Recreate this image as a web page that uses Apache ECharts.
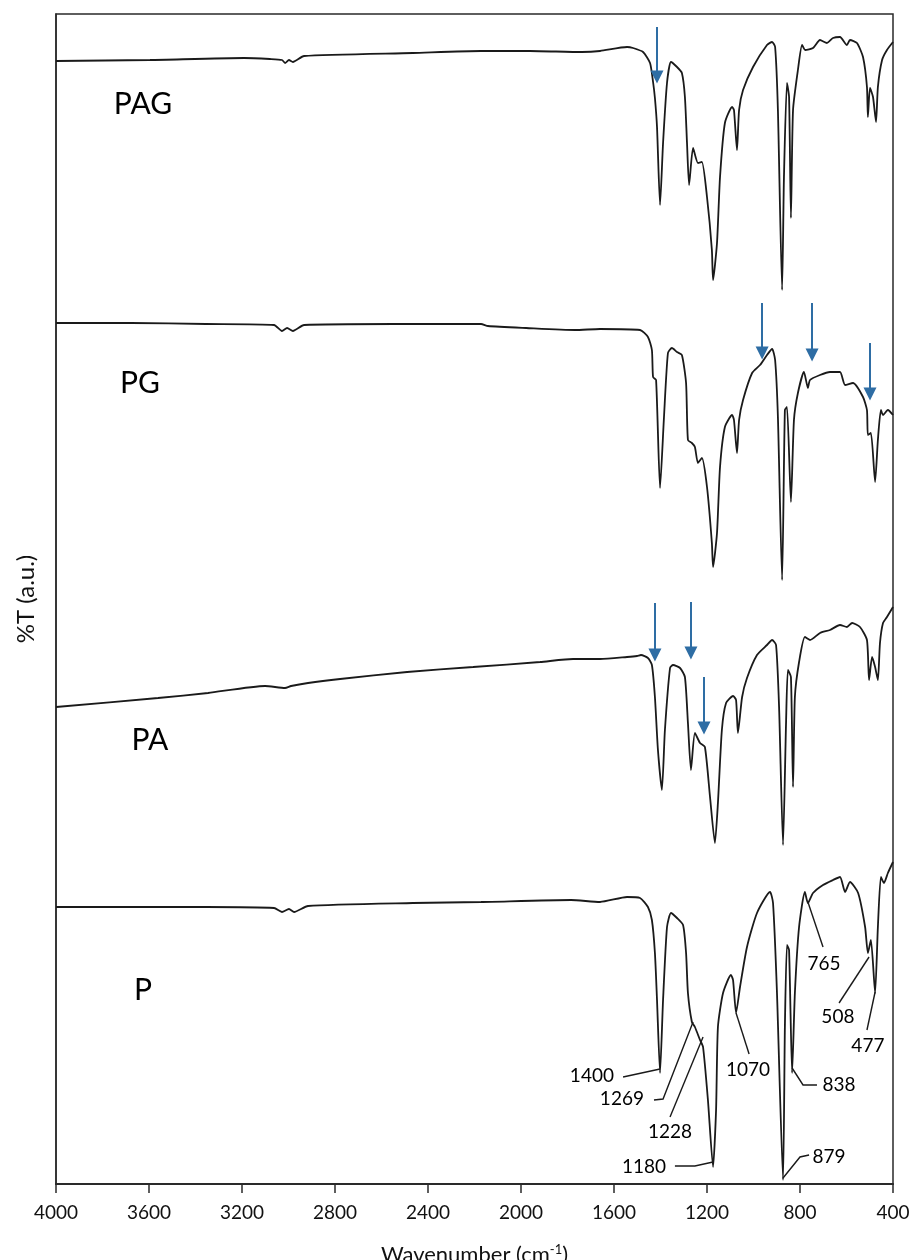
<!DOCTYPE html>
<html>
<head>
<meta charset="utf-8">
<script src="https://cdn.jsdelivr.net/npm/echarts@6/dist/echarts.min.js"></script>
<style>
  html, body { margin: 0; padding: 0; background: #fff; }
  #chart { width: 916px; height: 1260px; }
</style>
</head>
<body>
<div id="chart"></div>
<script>
// wavenumber (cm-1), %T in arbitrary units (traces stacked)
const pag = [
    [4000, 112.3], [3596, 112.4], [3191, 112.6], [3080, 112.5], [3028, 112.4], [3015, 112.1],
    [2998, 112.4], [2981, 112.2], [2933, 112.8], [2465, 113.1], [2172, 113.3], [1961, 113.3],
    [1738, 113.2], [1660, 113.3], [1544, 113.7], [1518, 113.6], [1475, 113.2], [1445, 112.1],
    [1432, 110.2], [1424, 108.6], [1415, 105.7], [1402, 97.9], [1389, 104.1], [1372, 110.1],
    [1355, 112.2], [1329, 111.7], [1308, 111.1], [1295, 108.7], [1286, 104.1], [1277, 99.9],
    [1260, 103.6], [1239, 102.1], [1222, 102.2], [1200, 98.7], [1179, 93.4], [1174, 90.4],
    [1157, 94.1], [1144, 100.7], [1123, 106.1], [1092, 107.7], [1084, 107.4], [1071, 103.4],
    [1062, 107.4], [1045, 109.4], [1002, 111.7], [942, 113.9], [920, 114.2], [907, 113.7],
    [895, 107.4], [877, 89.4], [869, 100.7], [856, 110.1], [847, 108.7], [839, 96.6],
    [830, 107.4], [809, 111.4], [791, 113.9], [778, 113.4], [744, 113.6], [714, 114.4],
    [684, 114.1], [658, 114.6], [628, 114.7], [598, 113.9], [585, 114.4], [555, 114.1],
    [529, 112.7], [512, 109.7], [508, 106.7], [499, 109.6], [486, 108.7], [473, 106.2],
    [465, 109.7], [447, 112.4], [426, 113.4], [400, 114.2]
];
const pg = [
    [4000, 86.1], [3677, 86.1], [3355, 86.0], [3062, 85.9], [3028, 85.3], [3006, 85.6],
    [2981, 85.3], [2933, 85.9], [2546, 86.0], [2172, 86.0], [2142, 85.8], [1978, 85.6],
    [1768, 85.4], [1660, 85.5], [1488, 85.4], [1454, 84.7], [1437, 83.4], [1432, 80.7],
    [1419, 80.4], [1402, 69.6], [1385, 76.7], [1368, 83.1], [1351, 83.6], [1329, 83.2],
    [1308, 82.9], [1290, 80.1], [1282, 74.4], [1265, 74.1], [1252, 73.7], [1239, 72.1],
    [1222, 72.6], [1200, 69.7], [1179, 64.1], [1174, 61.7], [1157, 65.1], [1144, 71.7],
    [1123, 75.7], [1092, 76.9], [1084, 76.4], [1071, 73.1], [1062, 76.4], [1045, 78.4],
    [1006, 81.1], [972, 81.9], [942, 82.9], [920, 83.5], [907, 82.4], [895, 76.7],
    [877, 60.4], [865, 77.4], [856, 77.7], [839, 68.2], [826, 76.4], [809, 79.1],
    [783, 81.2], [766, 79.6], [757, 80.4], [714, 80.9], [671, 81.2], [628, 81.2],
    [606, 79.9], [572, 80.1], [529, 78.7], [512, 77.4], [508, 74.9], [495, 75.1],
    [477, 70.2], [465, 74.4], [452, 77.4], [443, 76.9], [422, 77.4], [400, 76.9]
];
const pa = [
    [4000, 47.7], [3561, 48.6], [3346, 49.1], [3101, 49.8], [3015, 49.6], [2989, 49.8],
    [2916, 50.1], [2778, 50.5], [2490, 51.2], [2206, 51.7], [1918, 52.2], [1776, 52.5],
    [1660, 52.5], [1544, 52.7], [1501, 52.8], [1484, 52.9], [1454, 52.6], [1437, 51.9],
    [1424, 48.7], [1411, 43.4], [1394, 39.4], [1381, 45.4], [1359, 51.6], [1346, 51.9],
    [1316, 51.6], [1295, 50.7], [1282, 46.1], [1269, 41.4], [1252, 45.1], [1230, 44.1],
    [1209, 43.7], [1187, 38.7], [1166, 34.1], [1153, 38.1], [1136, 45.4], [1118, 48.1],
    [1088, 48.8], [1075, 48.4], [1067, 45.1], [1049, 48.7], [1028, 50.6], [985, 52.9],
    [942, 53.9], [920, 54.4], [903, 53.9], [890, 47.7], [873, 33.9], [860, 46.1],
    [852, 51.4], [839, 50.7], [830, 39.7], [822, 48.7], [804, 52.2], [779, 54.7],
    [757, 54.4], [714, 55.1], [671, 55.4], [628, 55.9], [598, 55.7], [576, 56.1],
    [542, 55.7], [512, 54.4], [503, 50.4], [490, 52.7], [477, 51.7], [465, 50.4],
    [456, 54.1], [443, 56.1], [426, 56.7], [400, 57.7]
];
const p = [
    [4000, 27.7], [3355, 27.7], [3062, 27.6], [3028, 27.2], [2998, 27.5], [2976, 27.2],
    [2916, 27.8], [2465, 28.1], [2172, 28.2], [1785, 28.4], [1660, 28.2], [1544, 28.7],
    [1488, 28.6], [1454, 27.7], [1437, 26.4], [1424, 23.1], [1415, 18.4], [1402, 11.1],
    [1389, 18.4], [1372, 25.7], [1355, 27.1], [1329, 26.6], [1303, 25.9], [1290, 23.1],
    [1282, 19.1], [1265, 16.2], [1252, 15.7], [1230, 14.4], [1217, 13.7], [1196, 8.4],
    [1174, 1.7], [1161, 7.4], [1153, 15.7], [1131, 19.1], [1097, 20.9], [1088, 20.4],
    [1075, 17.1], [1058, 19.7], [1028, 23.7], [985, 27.1], [929, 29.2], [916, 28.1],
    [899, 19.1], [873, 0.4], [865, 15.7], [856, 23.9], [847, 23.4], [834, 11.1],
    [822, 19.1], [804, 25.7], [779, 29.2], [766, 28.1], [744, 29.1], [701, 29.9],
    [658, 30.4], [628, 30.7], [606, 29.2], [585, 30.2], [550, 29.1], [520, 25.7],
    [508, 23.1], [495, 24.4], [477, 19.1], [465, 25.7], [452, 30.7], [439, 30.1],
    [422, 31.1], [400, 32.2]
];

const sampleNames = ['PAG', 'PG', 'PA', 'P'];
// where each sample name sits: [wavenumber, %T]
const namePos = [[3626, 108.0], [3639, 80.1], [3596, 44.4], [3626, 19.4]];

// peak labels on P: [text, label wn, label %T, leader line points]
const peakLabels = [
    ['1400', 1695, 10.8, [[1561, 10.7], [1402, 11.5]]],
    ['1269', 1566, 8.5, [[1428, 8.4], [1389, 8.5], [1260, 16.2]]],
    ['1228', 1359, 5.2, [[1359, 6.7], [1217, 14.7]]],
    ['1180', 1471, 1.7, [[1338, 1.8], [1252, 1.8], [1174, 2.2]]],
    ['1070', 1024, 11.4, [[1019, 13.0], [1075, 17.1]]],
    ['838', 632, 9.9, [[727, 9.9], [787, 9.9], [834, 11.6]]],
    ['879', 675, 2.7, [[761, 2.9], [800, 2.7], [873, 0.6]]],
    ['765', 697, 22.0, [[701, 23.7], [766, 28.2]]],
    ['508', 637, 16.7, [[632, 18.1], [503, 22.7]]],
    ['477', 508, 13.8, [[512, 15.4], [477, 19.2]]]
];

// blue arrows: [wn, tail %T, head %T]
const arrows = [
    [1415, 115.7, 110.7],
    [963, 88.1, 83.1],
    [748, 88.1, 82.9],
    [499, 84.1, 79.0],
    [1424, 58.1, 52.9],
    [1269, 58.2, 53.1],
    [1213, 50.7, 45.6]
];

const chart = echarts.init(document.getElementById('chart'));
const font = 'Lato, "Open Sans", sans-serif';
const lineColor = '#1a1a1a';
const arrowColor = '#2e6da4';

const traces = [pag, pg, pa, p];
const series = traces.map((d, i) => ({
    name: sampleNames[i],
    type: 'line',
    data: d,
    showSymbol: false,
    symbol: 'none',
    smooth: 0.2,
    lineStyle: { color: lineColor, width: 1.8 },
    z: 3
}));

// sample names
series.push({
    type: 'scatter',
    symbolSize: 0,
    itemStyle: { opacity: 1 },
    data: namePos.map((pos, i) => [pos[0], pos[1], sampleNames[i]]),
    label: {
        show: true, position: 'inside', formatter: prm => prm.data[2],
        fontFamily: font, fontSize: 30, color: '#000'
    },
    silent: true
});

// leader lines for peak labels
series.push({
    type: 'lines',
    coordinateSystem: 'cartesian2d',
    polyline: true,
    data: peakLabels.map(a => ({ coords: a[3] })),
    lineStyle: { color: lineColor, width: 1.4, opacity: 1 },
    silent: true
});

series.push({
    type: 'scatter',
    symbolSize: 0,
    itemStyle: { opacity: 1 },
    data: peakLabels.map(a => [a[1], a[2], a[0]]),
    label: {
        show: true, position: 'inside', formatter: prm => prm.data[2],
        fontFamily: font, fontSize: 19, color: '#000'
    },
    silent: true
});

// arrows
series.push({
    type: 'lines',
    coordinateSystem: 'cartesian2d',
    data: arrows.map(a => ({ coords: [[a[0], a[1]], [a[0], a[2]]] })),
    symbol: ['none', 'triangle'],
    symbolSize: [15, 13],
    lineStyle: { color: arrowColor, width: 2, opacity: 1 },
    itemStyle: { color: arrowColor },
    z: 5,
    silent: true
});

chart.setOption({
    animation: false,
    backgroundColor: '#fff',
    grid: {
        left: 56, right: 23, top: 14, bottom: 76,
        containLabel: false,
        outerBoundsMode: 'none',
        show: true, borderColor: '#2a2a2a', borderWidth: 1.5
    },
    xAxis: {
        type: 'value',
        inverse: true,
        min: 400, max: 4000, interval: 400,
        axisLine: { show: true, lineStyle: { color: '#2a2a2a', width: 2 } },
        axisTick: { show: true, inside: false, length: 9, lineStyle: { color: '#2a2a2a', width: 1.5 } },
        axisLabel: { fontFamily: font, fontSize: 19, color: '#111', margin: 19, formatter: v => String(v) },
        splitLine: { show: false },
        name: 'Wavenumber (cm{sup|-1})',
        nameLocation: 'middle',
        nameGap: 59,
        nameTextStyle: {
            fontFamily: font, fontSize: 22, color: '#111',
            rich: { sup: { fontFamily: font, fontSize: 13, color: '#111', verticalAlign: 'top', padding: [0, 0, 10, 0] } }
        }
    },
    yAxis: {
        type: 'value',
        min: 0, max: 117,
        axisLine: { show: true, lineStyle: { color: '#2a2a2a', width: 1.5 } },
        axisTick: { show: false },
        axisLabel: { show: false },
        splitLine: { show: false },
        name: '%T (a.u.)',
        nameLocation: 'middle',
        nameGap: 18,
        nameTextStyle: { fontFamily: font, fontSize: 24, color: '#111' }
    },
    series: series
});
</script>
</body>
</html>
